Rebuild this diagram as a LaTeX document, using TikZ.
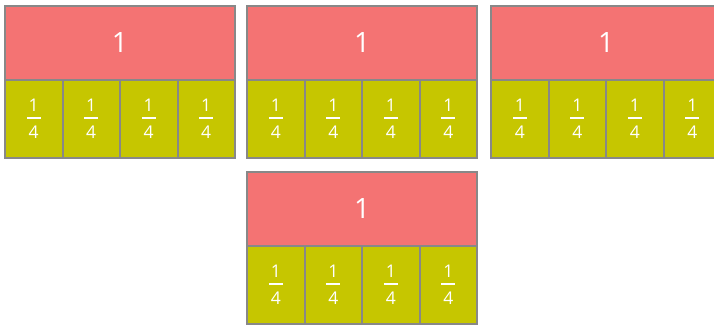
\documentclass[tikz,border=0pt]{standalone}
\usepackage{fontspec}
\setmainfont{Open Sans}
\usepackage{tikz}
\usetikzlibrary{positioning}

\definecolor{wholered}{HTML}{F47373}
\definecolor{partyellow}{HTML}{C6C600}
\definecolor{framegray}{HTML}{888888}

\newcommand{\quarterfrac}{\vbox{\hbox to 14pt{\hss 1\hss}\kern5.5pt
  \hrule height 2pt\kern6.5pt\hbox to 14pt{\hss 4\hss}}}

\tikzset{
  whole/.style={draw=framegray, line width=2pt, fill=wholered, text=white,
    minimum width=230pt, minimum height=74pt, inner sep=0pt, outer sep=0pt,
    anchor=north west, font=\fontsize{28}{30}\selectfont},
  part/.style={draw=framegray, line width=2pt, fill=partyellow, text=white,
    minimum width=57.5pt, minimum height=78pt, inner sep=0pt, outer sep=0pt,
    anchor=north west, font=\fontsize{17.5}{18}\selectfont}
}

\begin{document}
\begin{tikzpicture}[x=1pt, y=-1pt]
  \clip (0,0) rectangle (714,326);
  \fill[white] (0,0) rectangle (714,326);
  % one whole bar split into four quarters, four times
  \foreach \b/\bx/\by in {a/5/6, b/247/6, c/491/6, d/247/172} {
    \node[whole] (whole-\b) at (\bx,\by) {1};
    \node[part] (part-\b-1) at (whole-\b.south west) {\quarterfrac};
    \foreach \i [evaluate=\i as \j using int(\i-1)] in {2,3,4}
      \node[part] (part-\b-\i) at (part-\b-\j.north east) {\quarterfrac};
  }
\end{tikzpicture}
\end{document}
